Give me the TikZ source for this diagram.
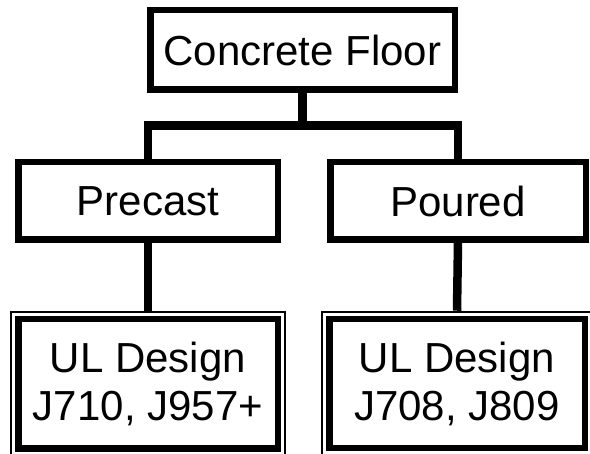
\documentclass[tikz,border=0pt]{standalone}
\usepackage{fontspec}
\setmainfont{Liberation Sans}
\usetikzlibrary{fit}
\tikzset{
  box/.style={draw=black, line width=6.5pt, fill=white, inner sep=0pt,
    align=center, font=\fontsize{42}{48}\selectfont},
  frame/.style={draw=black, line width=2pt, inner sep=4pt},
  conn/.style={draw=black, line width=8.5pt}
}
\begin{document}
\begin{tikzpicture}[x=1pt,y=-1pt]
\path[use as bounding box, fill=white] (0,0) rectangle (590,454);
\clip (0,0) rectangle (590,454);
\node[box, minimum width=304.5pt, minimum height=79.5pt] (top) at (302.5,50) {Concrete Floor};
\node[box, minimum width=259.5pt, minimum height=77.5pt] (pre) at (148,201) {Precast};
\node[box, minimum width=255.5pt, minimum height=77.5pt] (pou) at (458,201) {Poured};
\node[box, minimum width=259.5pt, minimum height=129.5pt] (ul1) at (148,384) {UL Design\\J710, J957+};
\node[box, minimum width=255.5pt, minimum height=129pt] (ul2) at (457,383.5) {UL Design\\J708, J809};
\node[frame, fit=(ul1)] (ul1f) {};
\node[frame, fit=(ul2)] (ul2f) {};
\coordinate (jn) at (302.5,125.5);
\draw[conn] (top.south) -- (jn);
\draw[conn] (pre.north) -- (pre.north |- jn) -- (pou.north |- jn) -- (pou.north);
\draw[conn] (pre.south) -- (ul1f.north);
\draw[conn] (pou.south) -- (ul2f.north);
\end{tikzpicture}
\end{document}
